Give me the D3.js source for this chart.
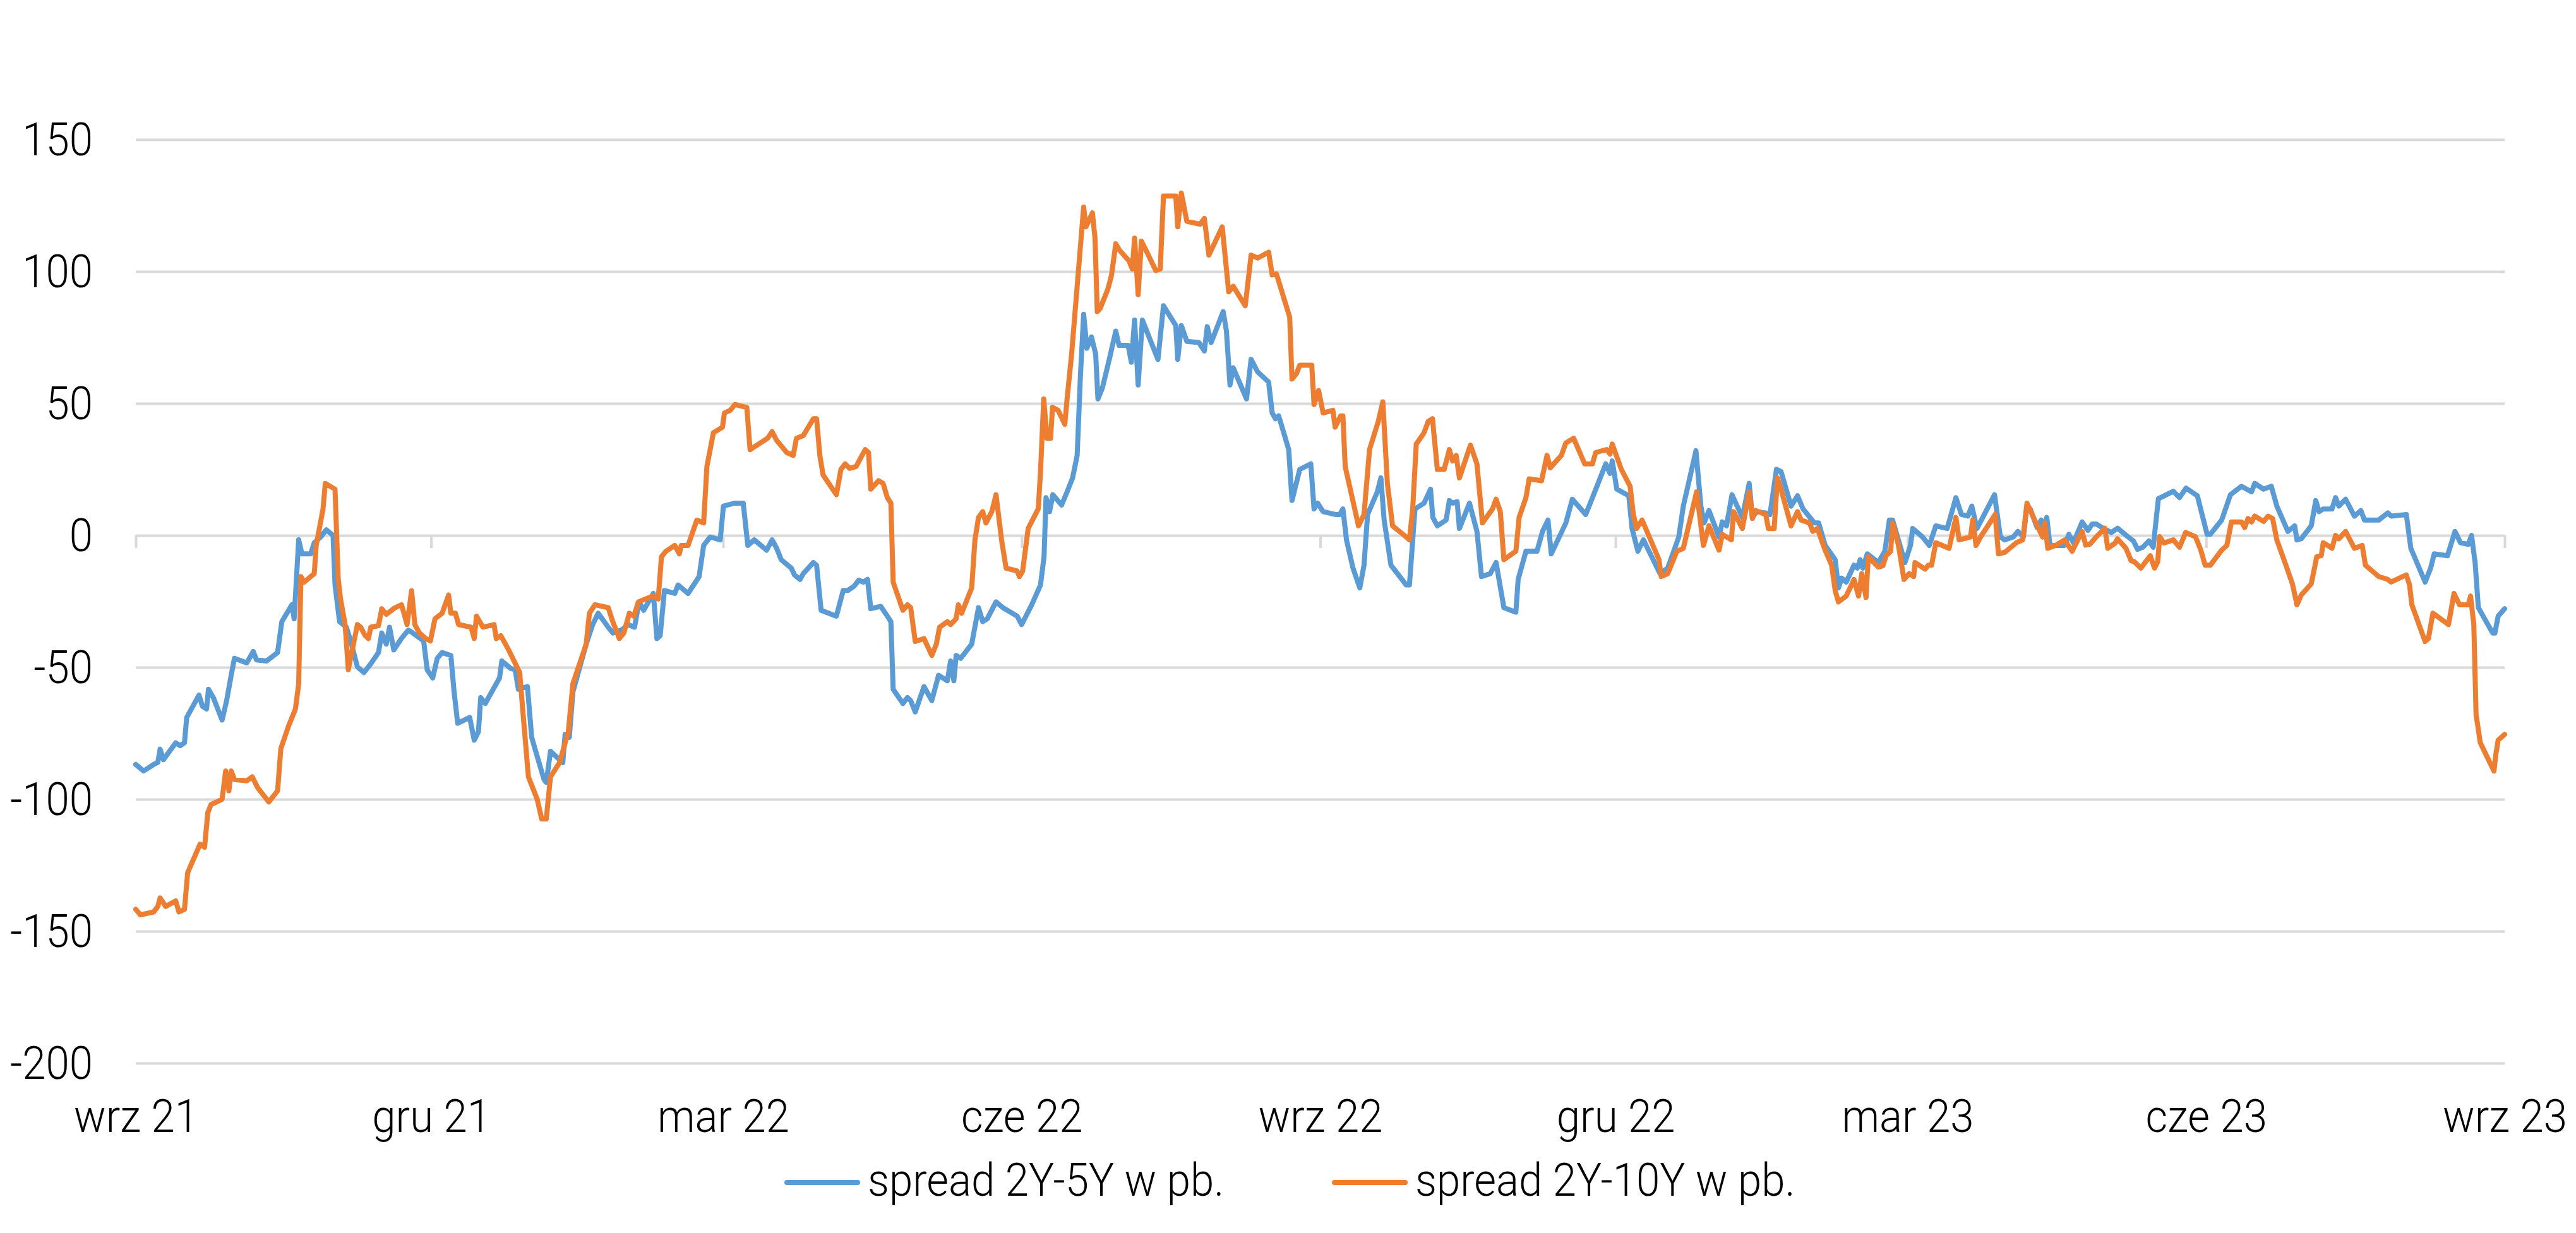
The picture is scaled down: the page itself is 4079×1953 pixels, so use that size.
<!DOCTYPE html>
<html>
<head>
<meta charset="utf-8">
<script src="https://cdn.jsdelivr.net/npm/d3@7"></script>
<style>
html,body{margin:0;padding:0;background:#ffffff;}
svg{display:block;}
text{font-family:"Roboto","Liberation Sans",Arial,sans-serif;font-weight:300;fill:#000000;}
</style>
</head>
<body>
<svg id="chart" width="4079" height="1953"></svg>
<script>
// ---------- data ----------
const START = "2021-09-01";
const END = "2023-09-01";
const tickDates = ["2021-09-01","2021-12-01","2022-03-01","2022-06-01","2022-09-01","2022-12-01","2023-03-01","2023-06-01","2023-09-01"];
const tickLabels = ["wrz 21","gru 21","mar 22","cze 22","wrz 22","gru 22","mar 23","cze 23","wrz 23"];
const yTicks = [-200,-150,-100,-50,0,50,100,150];
const seriesNames = ["spread 2Y-5Y w pb.","spread 2Y-10Y w pb."];
const seriesColors = ["#5B9BD5","#ED7D31"];

// days since START
const blueDays = [
0,2.4,5.5,6.8,7.5,8.5,12.3,13.7,15,15.7,
19.5,20.5,21.8,22.4,23.9,26.6,28,29.4,30.4,34.2,
36.2,37.2,40.3,43.7,45,48.1,48.8,50.2,51.2,53.9,
55,57,58.7,60.8,61.4,62.8,64.9,66.2,68.3,70.3,
72.4,74.8,75.8,77.2,78.2,79.5,81.9,84,85.4,88.7,
89.8,91.5,92.9,94.4,97.1,98.1,99.2,102.9,104.3,105.6,
106.3,107.7,112.1,112.8,115.5,116.9,117.9,120.7,122,124,
125.8,126.5,127.8,130.6,131.6,132.3,133.6,134.7,138.8,140.8,
142.5,145.6,147,149.7,151.7,153.7,155.1,156.5,158.5,159.5,
160.6,161.6,162.9,166.1,167.1,170.2,173.6,175,177,180.1,
181.1,184.5,187.2,188.6,190.6,194.4,196.1,197.5,198.9,202,
203,204.7,205.7,208.8,209.8,211.2,215.9,218,219.4,221.4,
222.8,224.2,225.5,226.5,229.6,231.6,232.7,233.4,236.4,237.8,
238.8,240.2,242.9,245.3,247.4,250.1,251.1,252.1,252.8,254.2,
257.6,259.7,261,262.4,265.1,267.2,271.6,273,276.1,278.8,
279.9,280.5,281.6,282.6,285.3,287,288.7,290.1,291.1,292.1,
293.1,294.5,295.8,296.5,297.9,300,302,303,305.8,306.8,
307.8,308.9,310.2,312.6,315,316.7,320.5,321.1,322.2,323.9,
327.6,329.3,330.2,331.4,335.1,336.1,337.2,338.2,342.3,343.7,
345.7,349.1,350.2,351.2,352.2,355.3,356.3,358.7,362.1,363.1,
364.2,365.9,369.6,371,372,373.1,375.1,377.2,378.5,379.6,
382.6,383.7,384.7,386.8,390.2,391.5,392.5,394.2,397,399,
399.7,401.1,403.8,404.8,405.8,407.2,407.9,411,413.3,414.7,
417.4,419.2,421.6,425.3,426,428.4,431.8,433.5,435.2,436.2,
440.7,442.7,446.8,448.9,453,454.3,455,456.4,460.1,461.1,
462.9,464.6,469.7,472.1,475.5,476.9,480.8,482.3,483.3,484.8,
487.9,488.9,490.2,491.9,495.1,497.2,498.2,499.5,502.3,503.6,
505.6,507,510.1,512.1,513.8,517.3,518.6,520.6,523.7,524.7,
525.7,527.1,529.5,530.5,531.4,532.2,533.6,537,539,540.4,
541.4,545.2,546.9,547.6,550.6,552.7,554.7,558.2,560.9,562.6,
564.6,565.8,567.4,572.8,574.6,575.9,578.6,580,581.7,582.8,
583.8,585.9,587.2,587.9,588.9,589.9,594.4,595.7,597.1,599.8,
601.6,602.9,604.2,606.8,608.8,610.7,613.9,615.6,616.9,618.5,
620.4,621.7,623.3,624.6,627.9,629.8,631.8,635.3,638.3,639.3,
642.8,645.5,648.9,652,653,655.7,658.1,659.8,663.2,665.3,
666,667.3,670.4,671.8,672.8,674.1,676.8,677.9,678.9,681,
683.7,685.7,686.8,691.2,694,695,699.7,701.1,705.5,707.2,
708.3,712.4,714.7,716.4,718.8,719.8,720.9,721.9,726.3,727,
728,730];
const blueValues = [
-86.8,-89.3,-86.8,-86,-81,-85,-78.6,-79.7,-78.6,-69,
-60.5,-64.7,-65.8,-58.3,-61.5,-70,-62.6,-53,-46.6,-48.3,
-44,-47.2,-47.6,-44.4,-32.7,-26.3,-31.6,-1.7,-7,-7,
-2.8,-0.6,2.1,0,-18.8,-32.7,-34.8,-40,-49.8,-52,
-48.7,-44.4,-37,-41.2,-34.8,-43.4,-39,-35.9,-37,-40,
-50.9,-54,-46.6,-44.4,-45.5,-59.4,-71.2,-69,-77.6,-74.4,
-61.5,-63.7,-54,-47.6,-50.4,-50.9,-58.3,-57.3,-76.5,-85,
-92.5,-93.6,-81.8,-85,-86.1,-75.4,-76.5,-59.4,-41.2,-33.8,
-29.5,-34.8,-37,-35.9,-33.8,-34.8,-25.2,-28.4,-24.1,-22,
-39.1,-38,-20.9,-22,-18.8,-22,-15.6,-3.8,-0.6,-1.7,
11.1,12.2,12.2,-3.8,-1.7,-5.6,-1.7,-4.9,-9.2,-12.4,
-15,-16.7,-14.5,-10.3,-11.3,-28.4,-30.6,-20.9,-20.9,-19.2,
-17,-17.7,-16.7,-27.8,-26.9,-30.6,-32.7,-58.3,-63.7,-61.5,
-62.6,-66.9,-57.3,-62.6,-53,-55.1,-47.6,-55.1,-45.5,-46.6,
-41.2,-27.4,-32.7,-31.6,-25.2,-27.4,-30.6,-33.8,-26.3,-18.8,
-8.1,14.3,9,15.4,11.5,16.5,21.8,30.3,60.3,83.8,
70.9,75.2,68.8,51.7,56,66.7,77.4,72,72,65.6,
81.6,57,81.6,74.1,66.7,87,79.5,66.7,79.5,73.5,
73.1,69.9,79.1,73.1,84.8,77.4,57,63.5,51.7,66.7,
62,58.1,46.4,44.2,45.3,32.5,13.2,25,27.1,10,
12.2,9,7.9,7.9,10,-1.7,-12.4,-19.9,-11.3,7.9,
16.5,21.8,5.8,-11.3,-16.7,-18.8,-18.8,10,12.2,17.5,
6.8,3.6,5.8,13.2,12.2,12.8,2.6,12.2,1.5,-15.6,
-14.5,-10.3,-27.4,-29.1,-16.7,-6,-6,1.5,5.8,-7,
4.7,13.7,7.9,14.3,27.1,23.5,28.2,17.5,15,2.6,
-6,-1.7,-14.5,-12.4,-0.6,11.1,32.1,11.1,4.7,9.4,
-0.6,5.1,3.6,15.4,6.8,19.7,6.8,9,8.5,7.9,
25,24.2,11.1,15,10,4.7,4.7,-3.8,-9.2,-19.9,
-16.2,-17.7,-11.3,-12.4,-9.2,-12.4,-7,-10.3,-6,5.8,
5.8,-10.3,-3.8,2.6,-0.6,-3.8,3.6,2.6,14.3,7.9,
7.3,11.1,2.6,15.4,-0.6,-1.7,-0.6,1.5,-0.6,11.1,
10,3,5.8,0.4,6.8,-3.8,-3.8,0.4,-2.8,5.1,
1.9,4.3,4.3,2.3,1.1,2.7,-0.5,-2.1,-5.3,-4.5,
-2.1,-4.5,13.9,14.7,16.7,14.3,17.9,15,0.4,0.4,
5.8,15.4,18.6,16.5,19.7,17.5,18.6,11.1,1.5,3.6,
-1.7,-1.3,3.6,13.2,9,10,10,14.3,11.1,13.7,
7.3,9.4,5.8,5.8,8.5,7.3,7.9,-4.9,-17.7,-12.4,
-7,-7.7,1.5,-2.8,-3.4,0,-10.3,-27.4,-37,-37,
-30.6,-27.8];

const orangeDays = [
0,1.4,5.5,6.8,7.5,9.2,12.3,13.3,15,16,
19.8,21.2,22.2,23.2,26.6,27.7,28.7,29.4,30.4,34.2,
35.9,37.6,41,42.3,43.7,44.7,47.1,49.2,50.2,50.9,
51.9,55,55.6,57.7,58.4,61.4,62.4,63.1,64.5,65.5,
66.9,68.3,69.3,70.7,71.7,72.4,74.8,75.8,77.2,79.9,
81.9,83.6,85,86,87.4,89.4,90.8,92.2,94.4,96.4,
97.1,98.5,99.5,103.3,104.3,105,107,110.4,111.1,112.5,
114.9,118.3,119.3,121,123.7,125.1,126.5,127.8,130.6,133.3,
134.7,138.8,139.8,141.5,145.6,147,149,150.4,152.1,153.5,
154.9,159.3,161,162,163.4,166.1,167.5,168.1,170.2,172.9,
175,176,178,180.8,181.4,183.2,184.6,188.3,189.3,190.6,
194.7,196.1,197.5,200.6,202.6,203.6,205.7,208.8,209.8,210.8,
211.8,215.9,217.3,218.6,220,222,223.8,224.8,225.8,226.5,
228.9,230.3,231.6,232.7,233.4,236.4,237.8,238.8,240.2,242.9,
245.3,246.7,247.7,250.1,251.1,252.8,253.5,254.5,257.6,258.6,
259.7,261,262,263.8,265.1,266.8,268.2,271.6,272.3,273.3,
275,278.1,278.8,279.8,280.8,281.9,282.5,284.2,286.3,287,
288.4,292.1,292.8,294.8,295.6,296.3,297.2,299.6,300.7,302,
303,306.1,307.1,307.8,308.9,309.9,311.2,314.3,315.7,316.7,
320.5,321.1,322.2,323.9,328,329.3,330.7,334.8,336.8,338.2,
341.9,343.7,345.7,349.1,350.2,351.5,355.6,356.3,357.7,358.7,
362.4,363.1,364.5,365.9,368.9,369.6,371.3,372,372.7,376.8,
378.5,380.2,382.9,384.3,385.7,387.3,391.5,392.5,393.5,394.6,
397,398.3,399.6,401.1,403.2,404.8,405.8,406.9,407.9,411.3,
413.3,415,418.1,419.2,420.5,421.6,425.3,426.3,428.4,429.4,
433.2,434.9,435.9,439.3,440.7,443.1,446.5,448.9,449.9,453.3,
454.3,455,457.8,460.5,461.5,462.5,464.2,469.4,470.1,472.1,
474.9,476.9,481,483.1,484.8,487.9,488.9,491.7,492.4,495.1,
497.2,498.2,499.2,502.3,503.1,504.9,505.9,507,510.1,512.1,
513.2,515.8,516.8,518.2,520.6,522.6,523.7,524.7,527.1,529.5,
530.9,531.9,533.2,533.9,537,538.4,539.4,540.8,541.4,543.2,
544.9,546.5,547.9,548.3,551.4,552.4,553.4,554.7,558.8,560.9,
561.9,565.4,566.1,567.1,568.5,573,574,576,579.5,581.5,
582.8,585.6,587.6,588.3,589.2,591.6,594.4,596.7,599.8,600.9,
602.2,604.2,606.8,607.7,610,610.7,613.3,614.9,615.9,617.9,
620.8,622.1,623.1,623.7,625,627.9,629.8,631.7,634.7,636.3,
637.7,639.3,642.8,644.4,645.8,648.9,649.9,650.9,652,653,
655.7,657.1,658.5,659.8,662.6,664.6,666,667.3,670.4,672.1,
673.5,674.1,676.8,677.9,678.9,681,683.7,686.1,687.1,691.2,
694,695,699.7,700.7,701.4,705.5,706.5,707.9,712.7,714.4,
716.1,718.8,719.5,720.5,721.2,722.5,726.7,727.3,728,730];
const orangeValues = [
-141.7,-143.8,-142.7,-140.6,-137.4,-140.6,-138.5,-142.7,-141.7,-127.8,
-117,-118.2,-105,-102,-100,-89.3,-96.8,-89.3,-92.5,-93,
-91.5,-95.7,-101,-99,-96.8,-80.8,-72.2,-65.8,-56.2,-15.6,
-17.7,-14.5,-3.8,10,19.7,17.5,-16.7,-24.1,-33.8,-50.9,
-42.3,-33.8,-34.8,-38,-39.1,-34.8,-34.2,-27.8,-29.9,-27.4,
-26.3,-33.8,-21,-33.8,-37,-39.1,-40,-31.6,-29.5,-22.6,
-29.5,-29.5,-33.8,-34.8,-39.1,-30.6,-34.8,-33.8,-39.1,-38,
-43.4,-51.9,-66.9,-91.5,-100,-107.5,-107.5,-91.5,-86.1,-74.4,
-56.2,-41.2,-29.5,-26.3,-27.4,-32.7,-39.1,-37,-29.5,-30.6,
-25.2,-23,-24.1,-8.1,-6,-3.8,-7,-3.8,-3.8,5.8,
4.7,26.1,38.9,41,46.4,47.4,49.6,48.5,32.5,33.5,
36.8,39.3,36,31.4,30.3,36.8,37.8,44.2,44.2,30.3,
22.9,15.4,25,27.1,25.4,26.1,30.3,32.5,31.4,17.5,
20.7,19.7,14.3,12.2,-17.7,-28.4,-26.3,-27.4,-40.2,-39.1,
-45.5,-41.2,-34.8,-32.7,-33.8,-31.6,-26.3,-29.5,-19.9,-1.7,
6.8,9,4.7,9,15.4,-1.7,-12.4,-13.5,-15.6,-13.5,
2.6,10,23.9,51.7,36.8,36.8,48.5,47.4,42.1,51.7,
68.8,124.4,116.9,122.2,112.6,84.8,86,93.4,98.7,110.5,
108.3,104,100.9,112.6,91.2,111.5,108.3,100.4,100.9,128.6,
128.6,116.9,129.7,119,117.9,120.1,106.2,116.9,92.3,94.4,
87,106.2,105.1,107.3,98.7,99.1,82.7,59.2,61.3,64.5,
64.5,49.6,54.9,46.4,47.4,41,45.3,45.3,26.1,3.6,
7.9,32.5,43.2,50.6,19.7,3.6,-0.6,-1.7,10,34.6,
38.9,43.2,44.2,25,25,32.5,28.2,30.3,21.8,34.2,
27.1,4.7,10,13.7,9,-9.2,-6,6.8,14.3,21.4,
20.7,30.3,25.6,30.3,35,36.8,27.1,27.1,31.4,32.5,
30.8,34.6,25,18.6,7.9,2.6,5.8,-9.2,-15.6,-14.5,
-6,-4.9,16.5,-3.8,3.6,-5.6,0.4,-1.7,9,2.6,
16.5,6.4,9.4,7.9,2.6,2.6,21.8,17.5,3.6,9,
5.8,4.7,1.5,2.6,-5.6,-11.3,-20.9,-25.2,-23,-16.7,
-23,-14.5,-23.5,-8.1,-12,-11.5,-7.7,-6,4.7,-3.8,
-16.7,-14.5,-15.6,-10.3,-12.8,-11.3,-11.3,-2.8,-4.9,6.8,
-1.7,-0.6,5.8,-3.8,-0.6,7.9,-7,-6.4,-2.8,-1.7,
12.2,4.7,-0.6,4.7,-4.9,-3.8,-1.7,-6,1.5,-3.7,
-3.3,-0.5,2.7,-4.9,-2.9,-1.3,-4.9,-9.6,-10,-12.4,
-7.7,-12.4,-10,-0.5,-2.9,-1.7,-4.5,1.1,-0.5,-5.3,
-11.3,-11.3,-5.6,-3.8,5.1,5.1,3,6.4,5.1,7.3,
5.3,7.3,6.4,-1.7,-11.3,-18.4,-26.3,-22.6,-18.4,-8.1,
-7.7,-2.8,-4.9,0,-1.3,1.5,-4.9,-3.8,-11.3,-15.6,
-16.7,-17.7,-15,-18.8,-26.3,-40.2,-39.1,-29.5,-33.8,-22,
-26.3,-26.3,-23,-33.8,-67.9,-78.6,-89.3,-82.9,-77.6,-75.4];

// ---------- layout ----------
const W = 4079, H = 1953;
const plot = {left: 215, right: 3966, top: 221, bottom: 1684};
const FONT = 73;
const CONDENSE = 0.92;
const GRID = "#D9D9D9";

const parse = d3.utcParse("%Y-%m-%d");
const t0 = parse(START);
const toDate = d => new Date(t0.getTime() + d * 864e5);

const x = d3.scaleUtc().domain([t0, parse(END)]).range([plot.left, plot.right]);
const y = d3.scaleLinear().domain([-200, 150]).range([plot.bottom, plot.top]);

const svg = d3.select("#chart");
svg.append("rect").attr("width", W).attr("height", H).attr("fill", "#ffffff");

// gridlines
const grid = svg.append("g")
  .attr("transform", `translate(${plot.left},0)`)
  .call(d3.axisLeft(y).tickValues(yTicks).tickSize(-(plot.right - plot.left)).tickFormat(""));
grid.select(".domain").remove();
grid.selectAll(".tick line").attr("stroke", GRID).attr("stroke-width", 4);

// y labels
const yAxis = svg.append("g")
  .attr("transform", `translate(${plot.left},0)`)
  .call(d3.axisLeft(y).tickValues(yTicks).tickSize(0).tickPadding(68).tickFormat(d => String(d)));
yAxis.select(".domain").remove();
yAxis.attr("font-family", null).attr("font-size", null);
yAxis.selectAll("text").attr("dy", "0.34em").style("font-size", FONT + "px");

// x tick marks on the zero line
const xTicks = svg.append("g")
  .attr("transform", `translate(0,${y(0)})`)
  .call(d3.axisBottom(x).tickValues(tickDates.map(parse)).tickSize(20).tickFormat(""));
xTicks.select(".domain").remove();
xTicks.selectAll(".tick line").attr("stroke", GRID).attr("stroke-width", 4);

// x labels at bottom
const xAxis = svg.append("g")
  .attr("transform", `translate(0,${plot.bottom})`)
  .call(d3.axisBottom(x).tickValues(tickDates.map(parse)).tickSize(0).tickFormat((d, i) => tickLabels[i]));
xAxis.select(".domain").remove();
xAxis.attr("font-family", null).attr("font-size", null);
xAxis.selectAll("text").attr("y", 109).attr("dy", 0).style("font-size", FONT + "px");

// series
const series = [
  {name: seriesNames[0], color: seriesColors[0], data: blueDays.map((d, i) => ({date: toDate(d), v: blueValues[i]}))},
  {name: seriesNames[1], color: seriesColors[1], data: orangeDays.map((d, i) => ({date: toDate(d), v: orangeValues[i]}))}
];
const line = d3.line().x(d => x(d.date)).y(d => y(d.v));
svg.append("g").selectAll("path").data(series).join("path")
  .attr("d", s => line(s.data))
  .attr("fill", "none")
  .attr("stroke", s => s.color)
  .attr("stroke-width", 8)
  .attr("stroke-linejoin", "round")
  .attr("stroke-linecap", "round");

// legend
const legendPos = [{x: 1242, tx: 1374}, {x: 2109, tx: 2241}];
const legend = svg.append("g").selectAll("g").data(series).join("g");
legend.append("line")
  .attr("x1", (d, i) => legendPos[i].x + 4).attr("x2", (d, i) => legendPos[i].x + 116)
  .attr("y1", 1873).attr("y2", 1873)
  .attr("stroke", d => d.color).attr("stroke-width", 8).attr("stroke-linecap", "round");
legend.append("text")
  .attr("x", (d, i) => legendPos[i].tx).attr("y", 1894)
  .style("font-size", FONT + "px")
  .text(d => d.name);

// condense all text to mimic the narrow original face
svg.selectAll("text").each(function () {
  const w = this.getComputedTextLength();
  d3.select(this).attr("textLength", w * CONDENSE).attr("lengthAdjust", "spacingAndGlyphs");
});
</script>
</body>
</html>
